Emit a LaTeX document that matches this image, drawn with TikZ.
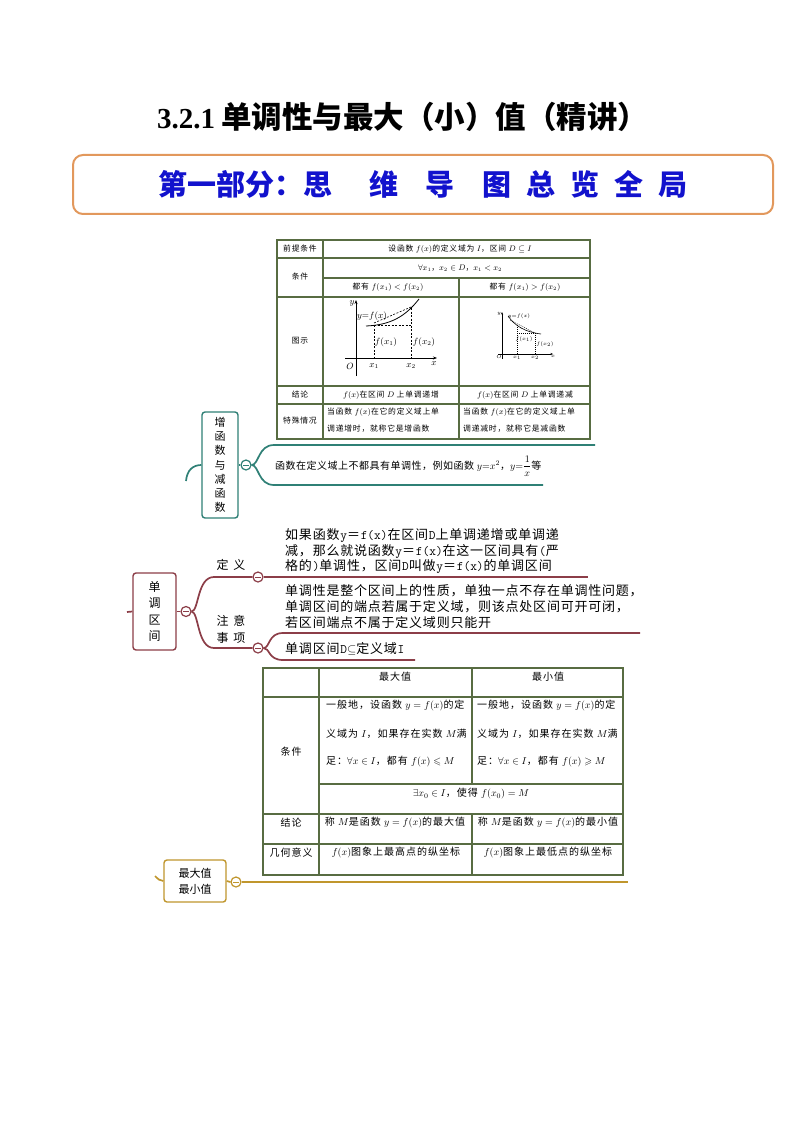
\documentclass[tikz,border=0pt]{standalone}
\usepackage{amsmath,amssymb}
\usepackage{fontspec}
\setmainfont{Noto Sans CJK SC}
\newfontfamily\titlelat{Liberation Serif}
\newfontfamily\lsa{Noto Sans CJK SC}[LetterSpace=10]
\newfontfamily\lsb{Noto Sans CJK SC}[LetterSpace=10]
\newfontfamily\lsc{Noto Sans CJK SC}[LetterSpace=6]
\newfontfamily\lsd{Noto Sans CJK SC}[LetterSpace=5]
\usetikzlibrary{arrows.meta}
\definecolor{teal1}{RGB}{47,128,118}
\definecolor{maroon1}{RGB}{140,62,72}
\definecolor{gold1}{RGB}{192,150,45}
\definecolor{orange1}{RGB}{226,152,92}
\definecolor{blue1}{RGB}{18,18,205}
\definecolor{tabc}{RGB}{88,108,66}
\begin{document}
\begin{tikzpicture}[x=1pt,y=-1pt,
  tabline/.style={draw=tabc, line width=1.2pt},
  ta/.style={inner sep=0pt, font=\lsa\fontsize{7.8}{9}\selectfont},
  tb/.style={inner sep=0pt, font=\lsb\fontsize{10}{11}\selectfont},
  tg/.style={inner sep=0pt, font=\fontsize{9}{10}\selectfont},
  tgs/.style={inner sep=0pt, font=\fontsize{4.5}{5}\selectfont},
  mmbox/.style={draw=#1, line width=1.4pt, rounded corners=3pt, fill=white, align=center, inner sep=0pt},
  mmbtn/.style={circle, draw=#1, fill=white, line width=1.2pt, minimum size=10pt, inner sep=0pt,
     path picture={\draw[#1, line width=1pt] ([xshift=-2.8pt]path picture bounding box.center) -- ([xshift=2.8pt]path picture bounding box.center);}},
  mmline/.style={draw=#1, line width=1.7pt},
  mtxt/.style={inner sep=0pt, anchor=west, font=\lsc\fontsize{13}{15}\selectfont},
  axis/.style={line width=0.7pt, -{Stealth[length=4pt,width=3pt]}},
  axs/.style={line width=0.5pt, -{Stealth[length=2.5pt,width=2pt]}},
  dsh/.style={dashed, line width=0.6pt, dash pattern=on 2pt off 1.5pt}
]
\fill[white] (0,0) rectangle (794,1123);
\useasboundingbox (0,0) rectangle (794,1123);

% ---------- title ----------
\node[anchor=west, inner sep=0pt] (title) at (157,117)
  {{\titlelat\bfseries\fontsize{29}{30}\selectfont 3.2.1}\hspace{6pt}{\bfseries\fontsize{30.5}{31}\selectfont 单调性与最大（小）值（精讲）}};

% ---------- header box ----------
\node[draw=orange1, line width=2pt, rounded corners=10pt, minimum width=700pt, minimum height=59pt,
      text=blue1, font=\fontsize{29}{30}\selectfont\bfseries] (hdr) at (423,184.5)
  {第一部分：思\hspace{37pt}维\hspace{27pt}导\hspace{28pt}图\hspace{15pt}总\hspace{15pt}览\hspace{15pt}全\hspace{15pt}局};

% ---------- table 1 ----------
\draw[tabline] (277,240) rectangle (590,439);
\draw[tabline] (277,258) -- (590,258);
\draw[tabline] (323,278) -- (590,278);
\draw[tabline] (277,297) -- (590,297);
\draw[tabline] (277,386) -- (590,386);
\draw[tabline] (277,404) -- (590,404);
\draw[tabline] (323,240) -- (323,439);
\draw[tabline] (459,278) -- (459,439);

\node[ta] (a11) at (300,249) {前提条件};
\node[ta] (a12) at (460,249) {设函数 $f(x)$的定义域为 $I$，区间 $D\subseteq I$};
\node[ta] (a21) at (300,277) {条件};
\node[ta] (a22) at (460,268) {$\forall x_1$，$x_2\in D$，$x_1<x_2$};
\node[ta] (a32) at (388,287) {都有 $f(x_1)<f(x_2)$};
\node[ta] (a33) at (525,287) {都有 $f(x_1)>f(x_2)$};
\node[ta] (a41) at (300,341) {图示};
\node[ta] (a51) at (300,395) {结论};
\node[ta] (a52) at (391,395) {$f(x)$在区间 $D$ 上单调递增};
\node[ta] (a53) at (525,395) {$f(x)$在区间 $D$ 上单调递减};
\node[ta] (a61) at (300,421) {特殊情况};
\node[ta, anchor=west] (a62a) at (327,412) {当函数 $f(x)$在它的定义域上单};
\node[ta, anchor=west] (a62b) at (327,429) {调递增时，就称它是增函数};
\node[ta, anchor=west] (a63a) at (463,412) {当函数 $f(x)$在它的定义域上单};
\node[ta, anchor=west] (a63b) at (463,429) {调递减时，就称它是减函数};

% graph 1 (increasing)
\draw[axis] (356,376) -- (356,300);
\draw[axis] (345,358) -- (437,358);
\draw[line width=0.8pt] (366,326) .. controls (390,325) and (405,317) .. (419,299);
\draw[dsh] (374,323) -- (411,307);
\draw[dsh] (374,325) -- (411,325);
\draw[dsh] (374,325) -- (374,358);
\draw[dsh] (411,308) -- (411,358);
\node[tg] (g1y) at (352,303) {$y$};
\node[tg] (g1o) at (350,366) {$O$};
\node[tg] (g1x1) at (374,366) {$x_1$};
\node[tg] (g1x2) at (411,366) {$x_2$};
\node[tg] (g1x) at (434,364) {$x$};
\node[tg] (g1f) at (372,316) {$y{=}f(x)$};
\node[tg] (g1a) at (386,342) {$f(x_1)$};
\node[tg] (g1b) at (424,342) {$f(x_2)$};

% graph 2 (decreasing)
\draw[axs] (502,359) -- (502,312);
\draw[axs] (498,354) -- (553,354);
\draw[line width=0.6pt] (508,316) .. controls (515,326) and (525,332) .. (541,334);
\draw[dsh, dash pattern=on 1pt off 1pt, line width=0.4pt] (510,320) -- (535,333);
\draw[dsh, dash pattern=on 1pt off 1pt, line width=0.4pt] (517,325) -- (517,354);
\draw[dsh, dash pattern=on 1pt off 1pt, line width=0.4pt] (535,333) -- (535,354);
\draw[dsh, dash pattern=on 1pt off 1pt, line width=0.4pt] (517,333) -- (535,333);
\node[tgs] (g2y) at (499,314) {$y$};
\node[tgs] (g2o) at (499,357) {$O$};
\node[tgs] (g2x1) at (517,358) {$x_1$};
\node[tgs] (g2x2) at (535,358) {$x_2$};
\node[tgs] (g2x) at (553,356) {$x$};
\node[tgs] (g2f) at (519,316) {$y{=}f(x)$};
\node[tgs] (g2a) at (524,339) {$f(x_1)$};
\node[tgs] (g2b) at (545,344) {$f(x_2)$};

% ---------- branch 1 ----------
\coordinate (s1) at (186,481);
\node[mmbox=teal1, minimum width=36pt, minimum height=106pt, font=\fontsize{11}{14.2}\selectfont] (b1) at (220,465)
  {增\\函\\数\\与\\减\\函\\数};
\draw[mmline=teal1] (s1) .. controls (187,470) and (193,465) .. (b1.west);
\node[mmbtn=teal1] (c1) at (246,465) {};
\draw[mmline=teal1] (b1.east) -- (c1.west);
\coordinate (e1a) at (595,445);
\coordinate (e1b) at (543,485);
\draw[mmline=teal1] (c1.east) .. controls (259,465) and (258,445) .. (274,445) -- (e1a);
\draw[mmline=teal1] (c1.east) .. controls (259,465) and (258,485) .. (274,485) -- (e1b);
\node[inner sep=0pt, anchor=west, font=\lsd\fontsize{10}{11}\selectfont] (n1) at (275,466)
  {函数在定义域上不都具有单调性，例如函数 $y{=}x^2$，$y{=}\dfrac{1}{x}$等};

% ---------- branch 2 ----------
\coordinate (s2) at (127,612);
\node[mmbox=maroon1, minimum width=43pt, minimum height=77pt, font=\fontsize{12}{16.5}\selectfont] (b2) at (154.5,611.5)
  {单\\调\\区\\间};
\draw[mmline=maroon1] (s2) -- (b2.west);
\node[mmbtn=maroon1] (c2) at (186,611.5) {};
\draw[mmline=maroon1] (b2.east) -- (c2.west);
\node[mmbtn=maroon1] (c2a) at (258,577) {};
\node[mmbtn=maroon1] (c2b) at (258,648) {};
\draw[mmline=maroon1] (c2.east) .. controls (199,611) and (197,577) .. (214,577) -- (c2a.west);
\draw[mmline=maroon1] (c2.east) .. controls (199,612) and (197,648) .. (214,648) -- (c2b.west);
\coordinate (e2a) at (588,577);
\draw[mmline=maroon1] (c2a.east) -- (e2a);
\coordinate (e2b) at (640,633);
\coordinate (e2c) at (415,660);
\draw[mmline=maroon1] (c2b.east) .. controls (270,648) and (268,633) .. (283,633) -- (e2b);
\draw[mmline=maroon1] (c2b.east) .. controls (270,648) and (268,660) .. (283,660) -- (e2c);
\node[inner sep=0pt, font=\fontsize{12}{14}\selectfont] (l2a) at (231,565) {定\hspace{5pt}义};
\node[inner sep=0pt, align=center, font=\fontsize{12}{17}\selectfont] (l2b) at (231,629) {注\hspace{5pt}意\\事\hspace{5pt}项};
\node[mtxt] (m1) at (285,535) {如果函数\texttt{y}＝\texttt{f(x)}在区间\texttt{D}上单调递增或单调递};
\node[mtxt] (m2) at (285,551) {减，那么就说函数\texttt{y}＝\texttt{f(x)}在这一区间具有\texttt{(}严};
\node[mtxt] (m3) at (285,566) {格的\texttt{)}单调性，区间\texttt{D}叫做\texttt{y}＝\texttt{f(x)}的单调区间};
\node[mtxt] (m4) at (285,591) {单调性是整个区间上的性质，单独一点不存在单调性问题，};
\node[mtxt] (m5) at (285,607) {单调区间的端点若属于定义域，则该点处区间可开可闭，};
\node[mtxt] (m6) at (285,623) {若区间端点不属于定义域则只能开};
\node[mtxt] (m7) at (285,649) {单调区间\texttt{D}$\subseteq$定义域\texttt{I}};

% ---------- table 2 ----------
\draw[tabline] (263,668) rectangle (623,875);
\draw[tabline] (263,697) -- (623,697);
\draw[tabline] (319,784) -- (623,784);
\draw[tabline] (263,814) -- (623,814);
\draw[tabline] (263,844) -- (623,844);
\draw[tabline] (319,668) -- (319,875);
\draw[tabline] (472,668) -- (472,784);
\draw[tabline] (472,814) -- (472,875);

\node[tb] (d12) at (395,677) {最大值};
\node[tb] (d13) at (548,677) {最小值};
\node[tb] (d21) at (291,752) {条件};
\node[tb, anchor=west] (d22a) at (326,706) {一般地，设函数 $y=f(x)$的定};
\node[tb, anchor=west] (d22b) at (326,734) {义域为 $I$，如果存在实数 $M$满};
\node[tb, anchor=west] (d22c) at (326,762) {足：$\forall x\in I$，都有 $f(x)\leqslant M$};
\node[tb, anchor=west] (d23a) at (477,706) {一般地，设函数 $y=f(x)$的定};
\node[tb, anchor=west] (d23b) at (477,734) {义域为 $I$，如果存在实数 $M$满};
\node[tb, anchor=west] (d23c) at (477,762) {足：$\forall x\in I$，都有 $f(x)\geqslant M$};
\node[tb] (d3) at (471,794) {$\exists x_0\in I$，使得 $f(x_0)=M$};
\node[tb] (d41) at (291,823) {结论};
\node[tb] (d42) at (395,823) {称 $M$是函数 $y=f(x)$的最大值};
\node[tb] (d43) at (548,823) {称 $M$是函数 $y=f(x)$的最小值};
\node[tb] (d51) at (291,853) {几何意义};
\node[tb] (d52) at (396,853) {$f(x)$图象上最高点的纵坐标};
\node[tb] (d53) at (548,853) {$f(x)$图象上最低点的纵坐标};

% ---------- branch 3 ----------
\coordinate (s3) at (155,876);
\node[mmbox=gold1, minimum width=62pt, minimum height=42pt, font=\fontsize{11}{16}\selectfont] (b3) at (195,881)
  {最大值\\最小值};
\draw[mmline=gold1] (s3) .. controls (158,879) and (160,881) .. (b3.west);
\node[mmbtn=gold1] (c3) at (236,882) {};
\draw[mmline=gold1] (b3.east) -- (c3.west);
\coordinate (e3) at (628,882);
\draw[mmline=gold1] (c3.east) -- (e3);

\end{tikzpicture}
\end{document}
